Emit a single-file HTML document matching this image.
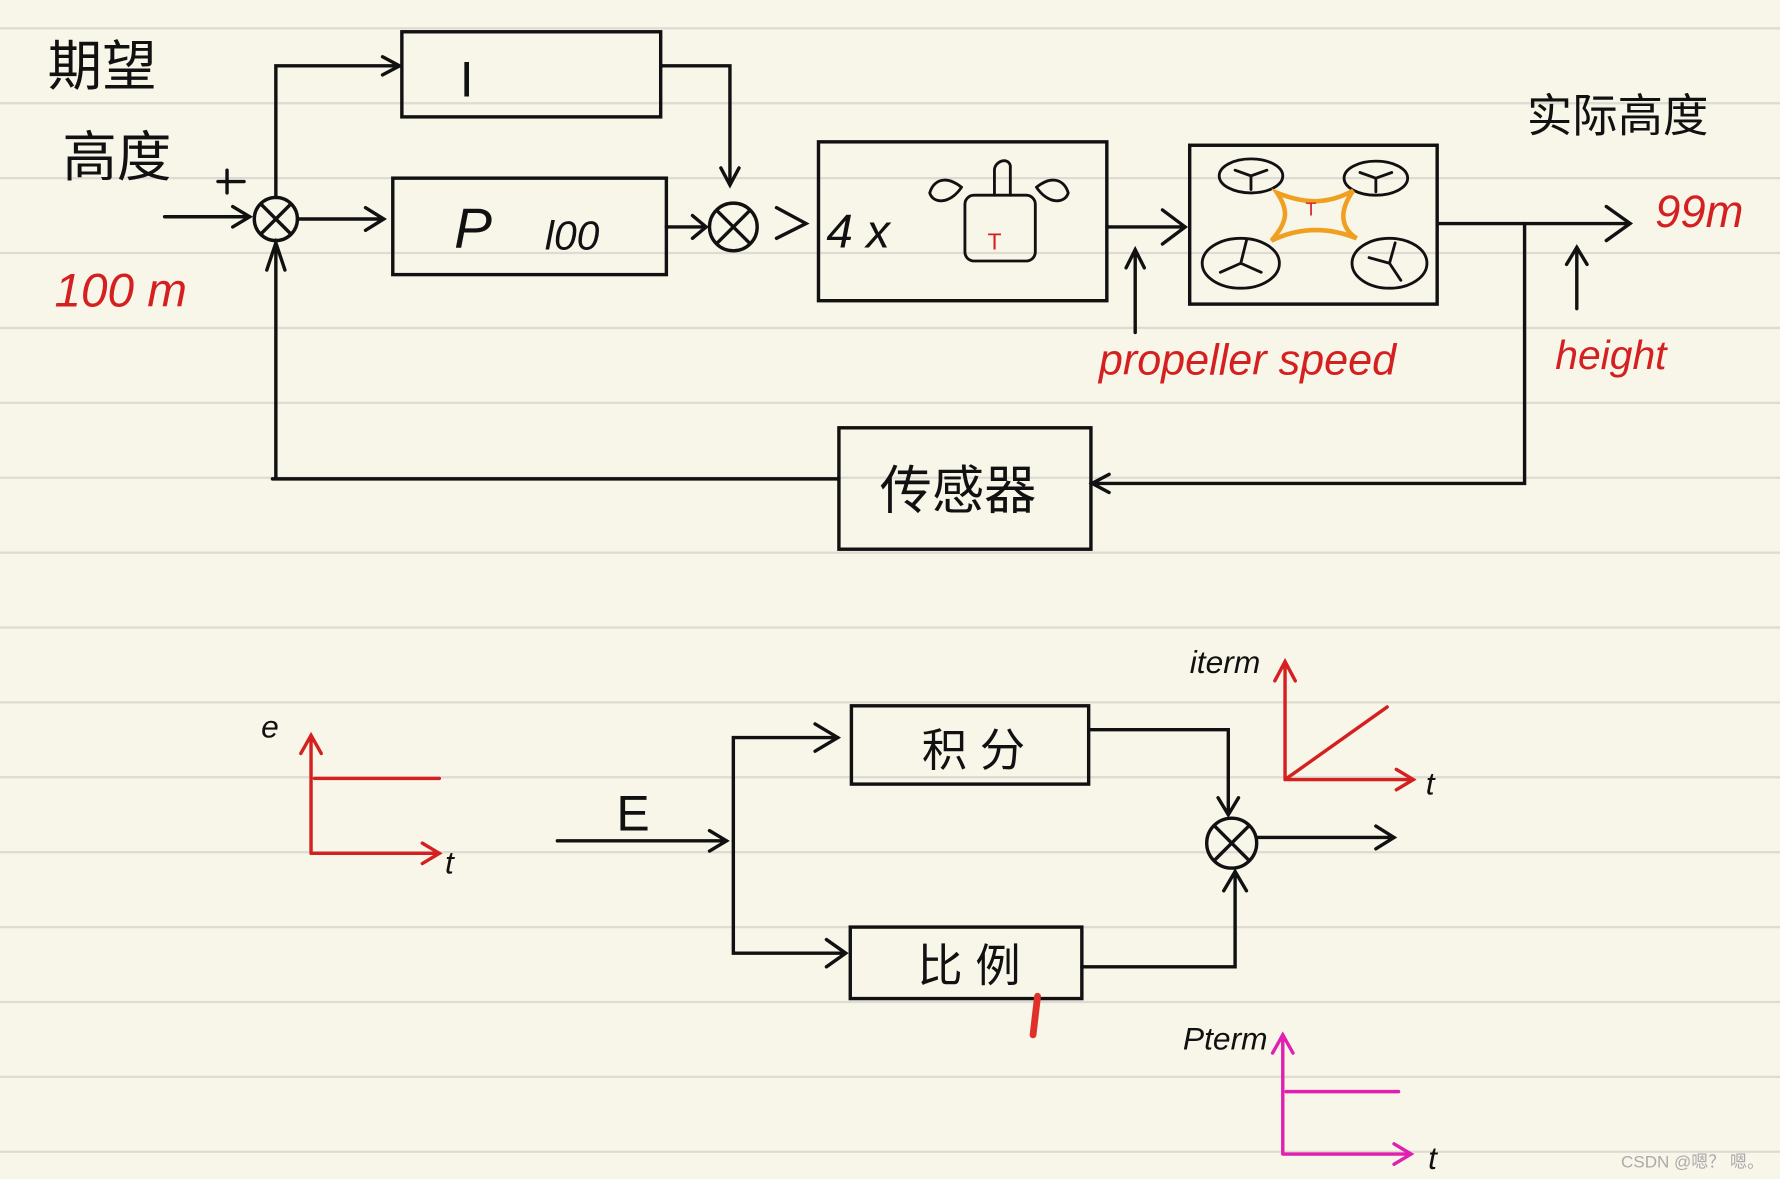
<!DOCTYPE html>
<html><head><meta charset="utf-8"><style>
html,body{margin:0;padding:0;background:#f7f4e8;}
svg{display:block}
text{font-family:"Liberation Sans","Noto Sans CJK SC",sans-serif;}
</style></head><body>
<svg width="1780" height="1179" viewBox="0 0 1568 1039" preserveAspectRatio="none" xmlns="http://www.w3.org/2000/svg">
<rect width="1568" height="1039" fill="#f8f5e9"/>
<g stroke="#dedbd2" stroke-width="2">
<line x1="0" y1="25" x2="1568" y2="25"/><line x1="0" y1="91" x2="1568" y2="91"/><line x1="0" y1="157" x2="1568" y2="157"/><line x1="0" y1="223" x2="1568" y2="223"/><line x1="0" y1="289" x2="1568" y2="289"/><line x1="0" y1="355" x2="1568" y2="355"/><line x1="0" y1="421" x2="1568" y2="421"/><line x1="0" y1="487" x2="1568" y2="487"/><line x1="0" y1="553" x2="1568" y2="553"/><line x1="0" y1="619" x2="1568" y2="619"/><line x1="0" y1="685" x2="1568" y2="685"/><line x1="0" y1="751" x2="1568" y2="751"/><line x1="0" y1="817" x2="1568" y2="817"/><line x1="0" y1="883" x2="1568" y2="883"/><line x1="0" y1="949" x2="1568" y2="949"/><line x1="0" y1="1015" x2="1568" y2="1015"/>
</g>
<g fill="none" stroke="#111" stroke-width="3" stroke-linecap="round">
<rect x="354" y="28" width="228" height="75"/>
<rect x="346" y="157" width="241" height="85"/>
<rect x="721" y="125" width="254" height="140"/>
<rect x="1048" y="128" width="218" height="140"/>
<rect x="739" y="377" width="222" height="107"/>
<circle cx="243" cy="193" r="19"/><path d="M230 180L256 206M256 180L230 206"/>
<circle cx="646" cy="200" r="21"/><path d="M632 186L660 214M660 186L632 214"/>
<path d="M145 191H220M205 182L220 191L205 200"/>
<path d="M243 174V58H352M337 50L352 58L337 66"/>
<path d="M262 193H338M322 183L338 193L322 203"/>
<path d="M582 58H643V163M635 148L643 163L651 148"/>
<path d="M587 200H622M610 190L622 200L610 210"/>
<path d="M684 183L710 197L684 210"/>
<path d="M975 200H1044M1024 185L1044 200L1024 215"/>
<path d="M1000 293V220M992 236L1000 220L1008 236"/>
<path d="M1266 197H1436M1415 182L1436 197L1415 212"/>
<path d="M1389 272V218M1380 233L1389 218L1398 233"/>
<path d="M1343 197V426H962M977 418L962 426L977 434"/>
<path d="M739 422H240M243 422V214M235 238L243 214L251 238"/>
<path d="M200 150V170M192 160H215"/>
<rect x="750" y="622" width="209" height="69"/>
<rect x="749" y="817" width="204" height="63"/>
<circle cx="1085" cy="743" r="22"/><path d="M1070 728L1100 758M1100 728L1070 758"/>
<path d="M491 741H640M625 732L640 741L625 750"/>
<path d="M646 741V650H738M718 638L738 650L718 662"/>
<path d="M646 741V840H745M728 828L745 840L728 852"/>
<path d="M959 643H1082V718M1073 703L1082 718L1091 703"/>
<path d="M953 852H1088V768M1078 785L1088 768L1098 785"/>
<path d="M1107 738H1228M1212 728L1228 738L1212 748"/>
<path d="M847 165c-15-12-25-5-28 5c3 10 18 10 28-5M913 165c15-12 25-5 28 5c-3 10-18 10-28-5" stroke-width="2.5"/>
<rect x="850" y="172" width="62" height="58" rx="8" stroke-width="2.5"/>
<path d="M876 172V150c0-8 12-12 14-4v26" stroke-width="2.5"/>
<ellipse cx="1102" cy="155" rx="28" ry="15" stroke-width="2.5"/>
<ellipse cx="1212" cy="157" rx="28" ry="15" stroke-width="2.5"/>
<ellipse cx="1093" cy="232" rx="34" ry="22" stroke-width="2.5"/>
<ellipse cx="1224" cy="232" rx="33" ry="22" stroke-width="2.5"/>
<path d="M1102 155l-14 -5M1102 155l14 -5M1102 155v12M1212 157l-14-5M1212 157l14-5M1212 157v12M1093 232l-18 8M1093 232l5-20M1093 232l18 8M1224 232l-18-5M1224 232l5-18M1224 232l10 15" stroke-width="2.5"/>
</g>
<path d="M1125 170C1150 180 1170 180 1192 168C1180 185 1180 200 1195 210C1170 200 1145 200 1120 212C1135 195 1135 185 1125 170Z" fill="none" stroke="#f0a020" stroke-width="4"/>
<g fill="none" stroke="#d42020" stroke-width="3" stroke-linecap="round">
<path d="M274 752V648M265 664L274 648L283 664M274 752H387M372 743L387 752L372 761M277 686H387"/>
<path d="M1132 687V583M1123 600L1132 583L1141 600M1132 687H1245M1230 678L1245 687L1230 696M1132 687L1222 623"/>
</g>
<g fill="none" stroke="#e020b0" stroke-width="3" stroke-linecap="round">
<path d="M1130 1017V912M1121 928L1130 912L1139 928M1130 1017H1243M1228 1008L1243 1017L1228 1026M1133 962H1232"/>
</g>
<path d="M914 878L910 912" stroke="#e0302a" stroke-width="6" stroke-linecap="round"/>
<g font-family="Liberation Serif,serif" fill="#111">
<text x="42" y="75" font-size="48" font-family="Liberation Sans,Noto Sans CJK SC,sans-serif">期望</text>
<text x="55" y="155" font-size="48" font-family="Liberation Sans,Noto Sans CJK SC,sans-serif">高度</text>
<text x="1345" y="116" font-size="40" font-family="Liberation Sans,Noto Sans CJK SC,sans-serif">实际高度</text>
<text x="405" y="85" font-size="44">I</text>
<text x="400" y="218" font-size="50" font-style="italic">P</text>
<text x="480" y="220" font-size="36" font-style="italic">l00</text>
<text x="728" y="218" font-size="42" font-style="italic">4 x</text>
<text x="775" y="448" font-size="46" font-family="Liberation Sans,Noto Sans CJK SC,sans-serif">传感器</text>
<text x="812" y="675" font-size="40" font-family="Liberation Sans,Noto Sans CJK SC,sans-serif">积 分</text>
<text x="808" y="865" font-size="40" font-family="Liberation Sans,Noto Sans CJK SC,sans-serif">比 例</text>
<text x="543" y="732" font-size="44">E</text>
<text x="230" y="650" font-size="28" font-style="italic">e</text>
<text x="392" y="770" font-size="28" font-style="italic">t</text>
<text x="1048" y="593" font-size="28" font-style="italic">iterm</text>
<text x="1256" y="700" font-size="28" font-style="italic">t</text>
<text x="1042" y="925" font-size="28" font-style="italic">Pterm</text>
<text x="1258" y="1030" font-size="28" font-style="italic">t</text>
</g>
<g fill="#d42020" font-family="Liberation Serif,serif" font-style="italic">
<text x="48" y="270" font-size="42">100 m</text>
<text x="1458" y="200" font-size="40">99m</text>
<text x="968" y="330" font-size="38">propeller speed</text>
<text x="1370" y="325" font-size="36">height</text>
</g>
<text x="870" y="220" font-size="20" fill="#d42020">T</text>
<text x="1150" y="190" font-size="16" fill="#d42020">T</text>
<text x="1428" y="1029" font-size="15" fill="#aaa">CSDN @嗯？ 嗯。</text>
</svg>
</body></html>
